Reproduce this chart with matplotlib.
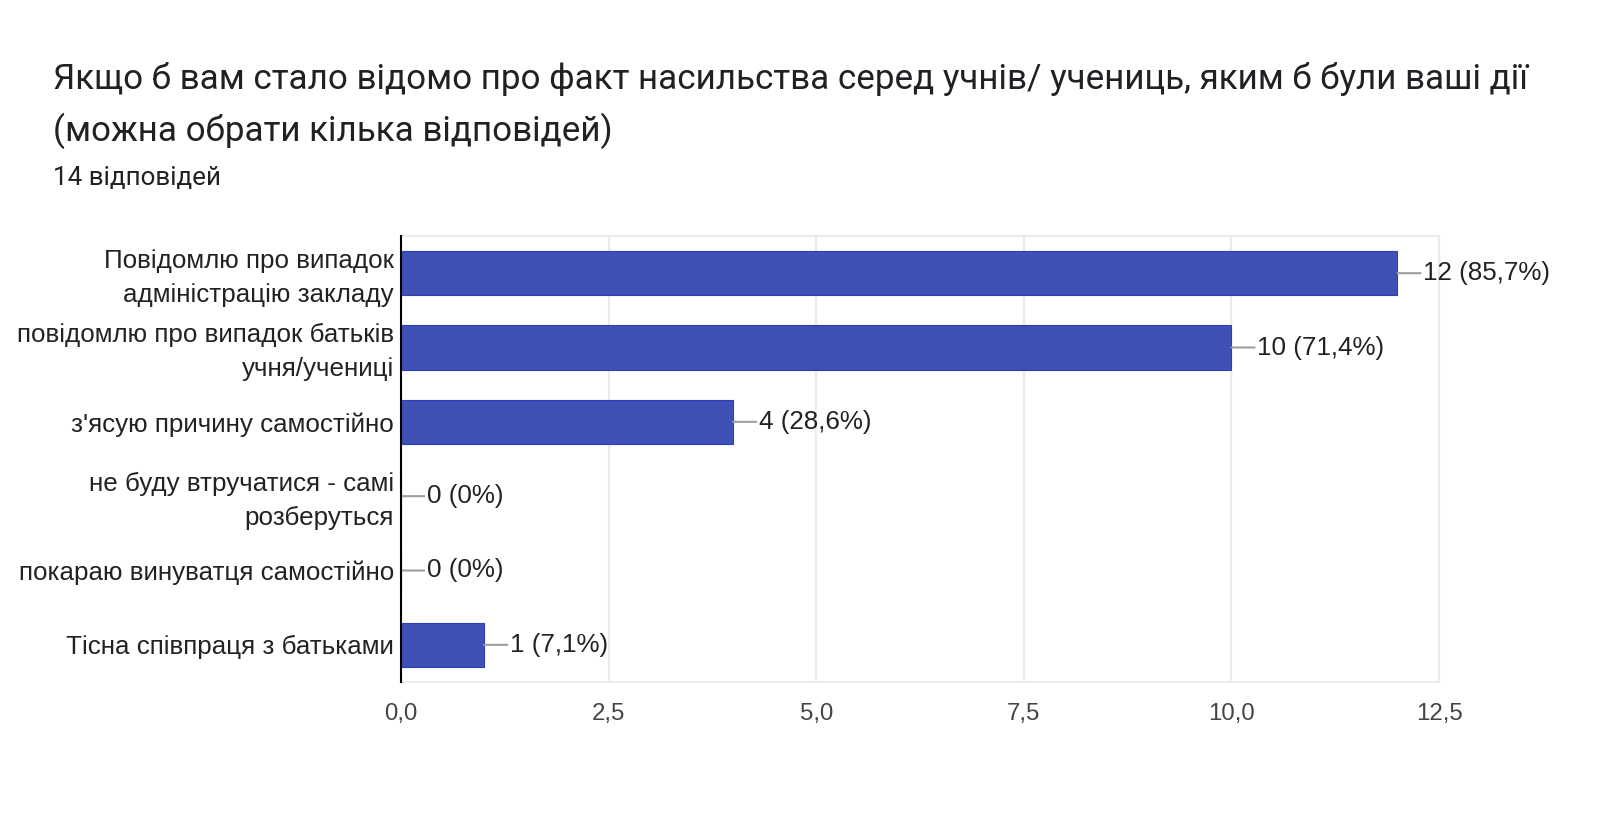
import matplotlib
matplotlib.use("Agg")
import matplotlib.pyplot as plt
import matplotlib.transforms as mtransforms
import numpy as np

# data
categories = [
    "Повідомлю про випадок\nадміністрацію закладу",
    "повідомлю про випадок батьків\nучня/учениці",
    "з'ясую причину самостійно",
    "не буду втручатися - самі\nрозберуться",
    "покараю винуватця самостійно",
    "Тісна співпраця з батьками",
]
counts = [12, 10, 4, 0, 0, 1]
percents = ["85,7%", "71,4%", "28,6%", "0%", "0%", "7,1%"]
xticks = [0, 2.5, 5, 7.5, 10, 12.5]
xtick_labels = ["0,0", "2,5", "5,0", "7,5", "10,0", "12,5"]

title = "Якщо б вам стало відомо про факт насильства серед учнів/ учениць, яким б були ваші дії\n(можна обрати кілька відповідей)"
subtitle = "14 відповідей"

W, H = 1600, 813
fig = plt.figure(figsize=(W / 100, H / 100), dpi=100)

# axes placed in pixel units
ax_l, ax_r, ax_t, ax_b = 401, 1439, 236, 682
ax = fig.add_axes([ax_l / W, (H - ax_b) / H, (ax_r - ax_l) / W, (ax_b - ax_t) / H])

y = np.arange(len(categories))
ax.barh(y, counts, height=0.6, color="#3f51b5", edgecolor="#2a3fb8", linewidth=0.8, zorder=3)

ax.set_xlim(0, 12.5)
ax.set_ylim(len(categories) - 0.5, -0.5)

ax.set_yticks(y)
ax.set_yticklabels(categories, fontsize=18.7, color="#222222", family="Liberation Sans",
                   linespacing=1.55)
ax.set_xticks(xticks)
ax.set_xticklabels(xtick_labels, fontsize=17.3, color="#444444", family="Liberation Sans")
ax.tick_params(axis="both", length=0)
ax.tick_params(axis="x", pad=15)
ax.tick_params(axis="y", pad=5)

# nudge two-line labels up a little
shift = mtransforms.ScaledTranslation(0, 3 / 100, fig.dpi_scale_trans)
for lbl in ax.get_yticklabels():
    if "\n" in lbl.get_text():
        lbl.set_transform(lbl.get_transform() + shift)

ax.grid(axis="x", color="#ebebeb", linewidth=1.5, zorder=0)
for side in ["top", "right", "bottom"]:
    ax.spines[side].set_color("#ebebeb")
    ax.spines[side].set_linewidth(1.5)
ax.spines["left"].set_color("#000000")
ax.spines["left"].set_linewidth(1.5)
ax.spines["left"].set_zorder(4)

# value labels with leader lines
for i, (c, p) in enumerate(zip(counts, percents)):
    ax.annotate(f"{c} ({p})", xy=(c, i), xytext=(26, 0), textcoords="offset pixels",
                ha="left", va="center", fontsize=18.7, color="#222222",
                family="Liberation Sans",
                arrowprops=dict(arrowstyle="-", color="#9e9e9e", lw=1.5,
                                shrinkA=0, shrinkB=0))

fig.text(53 / W, 1 - 79 / H, title.split("\n")[0], fontsize=25.2, color="#202124",
         family="Roboto", ha="left", va="center")
fig.text(53 / W, 1 - 131 / H, title.split("\n")[1], fontsize=25.2, color="#202124",
         family="Roboto", ha="left", va="center")
fig.text(53 / W, 1 - 178 / H, subtitle, fontsize=18.7, color="#202124",
         family="Roboto", ha="left", va="center")

fig.savefig("out.png", dpi=100, facecolor="white")
